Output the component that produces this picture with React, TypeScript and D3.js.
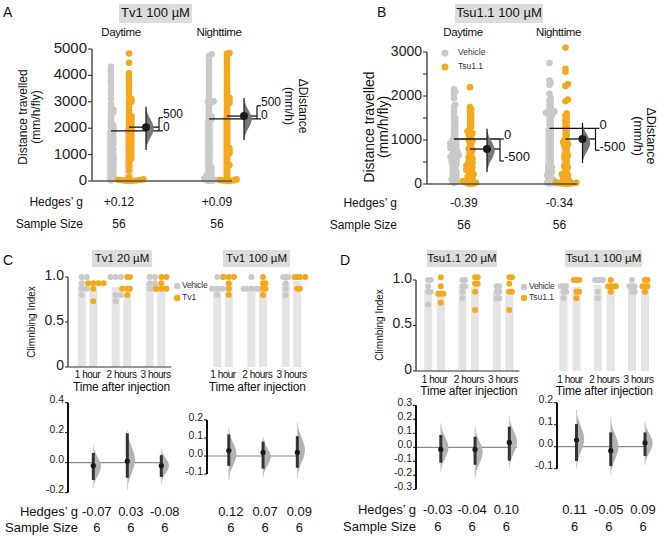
import React from 'react';
import * as d3 from 'd3';

const FONT = "'Liberation Sans', Arial, Helvetica, sans-serif";
const ORANGE = '#F6A81D';
const GREY = '#C9C9C9';
const BAR = '#E4E4E4';

// ---------------- Panels A / B: distance travelled ----------------
const periods = ['Daytime', 'Nighttime'];

const aVehicleDay = [4330, 4200, 4100, 3950, 3800, 3650, 3450, 3300, 3100, 2900, 2750, 2700, 2650, 2600, 2550, 2450, 2350, 2250, 2150, 2100, 2050, 1950, 1900, 1850, 1800, 1700, 1650, 1600, 1500, 1450, 1400, 1350, 1250, 1200, 1150, 1050, 1000, 950, 900, 850, 800, 750, 700, 650, 600, 550, 500, 450, 400, 350, 300, 250, 200, 150, 80, 20];
const aTv1Day = [4830, 4480, 4080, 3930, 3800, 3680, 3550, 3400, 3250, 3100, 3050, 3000, 2950, 2800, 2650, 2500, 2450, 2400, 2350, 2300, 2250, 2200, 2150, 2100, 2050, 2000, 1950, 1900, 1850, 1800, 1700, 1650, 1600, 1550, 1450, 1400, 1300, 1250, 1150, 1100, 1000, 950, 850, 800, 700, 550, 400, 150, 60, 50, 40, 30, 20, 10, 5, 0];
const aVehicleNight = [4800, 4720, 4600, 4450, 4300, 4150, 4000, 3850, 3700, 3550, 3400, 3250, 3100, 3020, 3000, 2980, 2900, 2800, 2700, 2600, 2500, 2450, 2400, 2350, 2300, 2200, 2100, 2000, 1900, 1800, 1700, 1600, 1500, 1400, 1300, 1200, 1100, 1000, 900, 800, 700, 600, 500, 450, 400, 350, 300, 250, 200, 150, 120, 80, 50, 30, 10, 0];
const aTv1Night = [4850, 4820, 4700, 4550, 4400, 4250, 4100, 3950, 3850, 3750, 3650, 3500, 3400, 3300, 3200, 3150, 3100, 3050, 3000, 2950, 2900, 2800, 2700, 2600, 2500, 2400, 2300, 2200, 2100, 2000, 1900, 1800, 1650, 1500, 1400, 1300, 1250, 1200, 1150, 1100, 1050, 1000, 900, 800, 700, 600, 550, 400, 250, 120, 60, 40, 30, 20, 10, 0];
const aVehicleMean = [1900, 2350];
const aTv1Mean = [2040, 2460];
const aDistLo = [-730, -800];
const aDistHi = [910, 790];
const aDeltaTicks = [0, 500];
const aYTicks = [0, 1000, 2000, 3000, 4000, 5000];
const aHedges = ['+0.12', '+0.09'];
const aN = ['56', '56'];

const bVehicleDay = [2150, 2100, 2050, 1950, 1800, 1750, 1650, 1550, 1500, 1450, 1400, 1350, 1300, 1250, 1200, 1150, 1100, 1050, 1000, 980, 950, 920, 900, 880, 850, 820, 800, 780, 750, 720, 700, 680, 650, 640, 620, 600, 580, 550, 520, 500, 480, 450, 420, 400, 350, 300, 280, 250, 200, 180, 150, 120, 100, 80, 50, 20];
const bTsuDay = [2200, 1750, 1700, 1650, 1600, 1550, 1500, 1450, 1400, 1350, 1300, 1250, 1200, 1180, 1150, 1120, 1100, 1050, 1000, 980, 950, 900, 850, 800, 780, 750, 700, 650, 600, 580, 550, 500, 480, 450, 420, 400, 380, 350, 320, 300, 280, 250, 220, 200, 180, 150, 130, 100, 80, 60, 50, 40, 30, 20, 10, 0];
const bVehicleNight = [2750, 2350, 2300, 2250, 2050, 1950, 1900, 1850, 1800, 1750, 1700, 1650, 1640, 1620, 1600, 1580, 1550, 1500, 1450, 1400, 1350, 1300, 1250, 1200, 1150, 1100, 1050, 1000, 950, 900, 850, 800, 750, 700, 650, 600, 550, 500, 450, 400, 380, 350, 300, 280, 250, 200, 180, 150, 120, 100, 80, 60, 40, 30, 20, 10];
const bTsuNight = [3100, 2620, 2550, 2270, 2230, 1920, 1880, 1600, 1550, 1500, 1450, 1400, 1350, 1300, 1250, 1200, 1150, 1100, 1050, 1000, 970, 950, 920, 900, 870, 850, 800, 750, 700, 650, 620, 600, 550, 500, 450, 400, 380, 350, 300, 250, 220, 200, 180, 150, 120, 100, 80, 60, 50, 40, 30, 20, 15, 10, 5, 0];
const bVehicleMean = [1023, 1266];
const bTsuMean = [795, 1023];
const bDistLo = [-750, -790];
const bDistHi = [230, 120];
const bDeltaTicks = [0, -500];
const bYTicks = [0, 500, 1000, 1500, 2000, 2500, 3000];
const bYLabelTicks = [0, 1000, 2000, 3000];
const bHedges = ['-0.39', '-0.34'];
const bN = ['56', '56'];

const violinProfile = [0, 0.1, 0.3, 0.6, 0.88, 1, 0.88, 0.6, 0.3, 0.1, 0];

// ---------------- Panels C / D: climbing index ----------------
const hours = ['1 hour', '2 hours', '3 hours'];

const cTv20Vehicle = [[1, 1, 0.93, 0.87, 0.87, 0.8], [1, 1, 1, 0.8, 0.8, 0.73], [1, 1, 0.93, 0.93, 0.87, 0.87]];
const cTv20Tv1 = [[0.93, 0.93, 0.93, 0.93, 0.87, 0.73], [1, 1, 0.87, 0.87, 0.87, 0.8], [1, 1, 0.93, 0.87, 0.87, 0.87]];
const cTv100Vehicle = [[1, 1, 0.87, 0.87, 0.87, 0.8], [1, 0.87, 0.87, 0.87, 0.87, 0.87], [1, 1, 1, 0.93, 0.87, 0.8]];
const cTv100Tv1 = [[1, 1, 1, 0.93, 0.87, 0.8], [1, 0.93, 0.93, 0.87, 0.87, 0.8], [1, 1, 1, 1, 0.87, 0.87]];

const dTsu20Vehicle = [[1, 1, 0.93, 0.87, 0.87, 0.73], [1, 1, 0.93, 0.93, 0.87, 0.8], [0.93, 0.93, 0.87, 0.87, 0.8, 0.8]];
const dTsu20Tsu = [[1.03, 0.93, 0.85, 0.85, 0.85, 0.75], [1.03, 1.03, 0.96, 0.96, 0.87, 0.67], [1.03, 1.03, 0.96, 0.87, 0.87, 0.67]];
const dTsu100Vehicle = [[0.93, 0.93, 0.93, 0.87, 0.87, 0.8], [1, 1, 1, 1, 0.87, 0.8], [1, 0.93, 0.93, 0.93, 0.87, 0.87]];
const dTsu100Tsu = [[1, 1, 1, 0.87, 0.87, 0.8], [1, 0.93, 0.93, 0.93, 0.93, 0.87], [1, 1, 0.93, 0.93, 0.93, 0.87]];

const cTv20Diff = [-0.02, 0.01, -0.02];
const cTv20CiLo = [-0.115, -0.1, -0.095];
const cTv20CiHi = [0.065, 0.196, 0.05];
const cTv20DistLo = [-0.17, -0.18, -0.137];
const cTv20DistHi = [0.12, 0.218, 0.096];
const cTv20Ticks = [-0.2, 0, 0.2, 0.4];
const cTv20Hedges = ['-0.07', '0.03', '-0.08'];

const cTv100Diff = [0.03, 0.02, 0.02];
const cTv100CiLo = [-0.055, -0.07, -0.065];
const cTv100CiHi = [0.12, 0.08, 0.11];
const cTv100DistLo = [-0.133, -0.118, -0.124];
const cTv100DistHi = [0.154, 0.107, 0.19];
const cTv100Ticks = [-0.1, 0, 0.1, 0.2];
const cTv100Hedges = ['0.12', '0.07', '0.09'];

const dTsu20Diff = [-0.015, -0.015, 0.035];
const dTsu20CiLo = [-0.11, -0.125, -0.095];
const dTsu20CiHi = [0.088, 0.075, 0.147];
const dTsu20DistLo = [-0.174, -0.22, -0.15];
const dTsu20DistHi = [0.171, 0.147, 0.224];
const dTsu20Ticks = [-0.3, -0.2, -0.1, 0, 0.1, 0.2, 0.3];
const dTsu20Hedges = ['-0.03', '-0.04', '0.10'];

const dTsu100Diff = [0.03, -0.018, 0.018];
const dTsu100CiLo = [-0.065, -0.088, -0.042];
const dTsu100CiHi = [0.103, 0.065, 0.065];
const dTsu100DistLo = [-0.098, -0.129, -0.083];
const dTsu100DistHi = [0.167, 0.129, 0.114];
const dTsu100Ticks = [-0.1, 0, 0.1, 0.2];
const dTsu100Hedges = ['0.11', '-0.05', '0.09'];

const sampleN = ['6', '6', '6'];
const climbTicks = [0, 0.5, 1];

// ---------------- helpers ----------------
function swarm(vals: number[], y: (v: number) => number, cx: number, minD: number, step: number) {
  const sorted = [...vals].sort((a, b) => a - b);
  const placed: { x: number; y: number }[] = [];
  for (const v of sorted) {
    const yy = y(v);
    let xx = cx;
    for (let i = 0; i < 400; i++) {
      const off = i === 0 ? 0 : (i % 2 === 1 ? 1 : -1) * Math.ceil(i / 2) * step;
      const cand = cx + off;
      if (placed.every((p) => (p.x - cand) ** 2 + (p.y - yy) ** 2 >= minD * minD)) {
        xx = cand;
        break;
      }
    }
    placed.push({ x: xx, y: yy });
  }
  return placed;
}

function violinPath(x: number, yTop: number, yBot: number, w: number) {
  const n = violinProfile.length;
  const pts = violinProfile.map((p, i) => ({ y: yTop + ((yBot - yTop) * i) / (n - 1), w: p * w }));
  const area = d3
    .area<{ y: number; w: number }>()
    .y((d) => d.y)
    .x0(() => x)
    .x1((d) => x + d.w)
    .curve(d3.curveBasis);
  return area(pts) || '';
}

const fmt1 = (d: number) => d3.format('.1f')(d).replace('\u2212', '-');

type DistCfg = {
  y: d3.ScaleLinear<number, number>;
  x: d3.ScalePoint<string>;
  off: number;
  vehicle: number[][];
  treat: number[][];
  vMean: number[];
  tMean: number[];
  lo: number[];
  hi: number[];
  deltaTicks: number[];
  axisX: number;
  baseEnd: number;
  ticks: number[];
  labelTicks: number[];
  tickFont: number;
  deltaFont: number;
};

function DistancePanel({ c }: { c: DistCfg }) {
  const { y, x, off } = c;
  return (
    <g>
      {periods.map((p, i) => {
        const cx = x(p) as number;
        const gx = cx - off;
        const tx = cx + off;
        return (
          <g key={p}>
            <rect x={gx - 4.5} width={9} y={y(c.vMean[i])} height={y(0) - y(c.vMean[i])} fill={BAR} />
            <rect x={tx - 4.5} width={9} y={y(c.tMean[i])} height={y(0) - y(c.tMean[i])} fill={BAR} />
          </g>
        );
      })}
      {periods.map((p, i) => {
        const cx = x(p) as number;
        const gd = swarm(c.vehicle[i], y, cx - c.off, 2.5, 1.2);
        const td = swarm(c.treat[i], y, cx + c.off, 2.5, 1.2);
        return (
          <g key={p + 'd'}>
            {gd.map((d, k) => (
              <circle key={'g' + k} cx={d.x} cy={d.y} r={3.3} fill={GREY} />
            ))}
            {td.map((d, k) => (
              <circle key={'t' + k} cx={d.x} cy={d.y} r={3.3} fill={ORANGE} />
            ))}
          </g>
        );
      })}
      {/* axis */}
      <line x1={c.axisX} x2={c.axisX} y1={y(c.ticks[c.ticks.length - 1])} y2={y(0)} stroke="#222" strokeWidth={1.2} />
      <line x1={c.axisX} x2={c.baseEnd} y1={y(0)} y2={y(0)} stroke="#555" strokeWidth={1.5} />
      {c.ticks.map((t) => (
        <line key={t} x1={c.axisX - 4} x2={c.axisX} y1={y(t)} y2={y(t)} stroke="#222" strokeWidth={1} />
      ))}
      {c.labelTicks.map((t) => (
        <text key={t} x={c.axisX - 5} y={y(t)} textAnchor="end" dominantBaseline="middle" fontSize={c.tickFont} fill="#222">
          {t}
        </text>
      ))}
      {/* estimation */}
      {periods.map((p, i) => {
        const cx = x(p) as number;
        const gx = cx - off;
        const tx = cx + off;
        const ex = tx + 17;
        const bx = tx + 30;
        const vm = c.vMean[i];
        const tm = c.tMean[i];
        return (
          <g key={p + 'e'}>
            <line x1={gx} x2={bx} y1={y(vm)} y2={y(vm)} stroke="#111" strokeWidth={1.3} />
            <line x1={tx} x2={bx} y1={y(tm)} y2={y(tm)} stroke="#111" strokeWidth={1.3} />
            <line x1={bx} x2={bx} y1={y(vm + c.deltaTicks[0])} y2={y(vm + c.deltaTicks[1])} stroke="#111" strokeWidth={1.2} />
            {c.deltaTicks.map((d) => (
              <g key={d}>
                <line x1={bx} x2={bx + 4} y1={y(vm + d)} y2={y(vm + d)} stroke="#111" strokeWidth={1.2} />
                <text x={bx + 4} y={y(vm + d) - 3} dominantBaseline="middle" fontSize={c.deltaFont} fill="#111">
                  {d}
                </text>
              </g>
            ))}
            <path d={violinPath(ex, y(vm + c.hi[i]), y(vm + c.lo[i]), 8)} fill="#777" />
            <line x1={ex} x2={ex} y1={y(vm + c.hi[i])} y2={y(vm + c.lo[i])} stroke="#111" strokeWidth={1.2} />
            <circle cx={ex} cy={y(tm)} r={4} fill="#1a1a1a" />
          </g>
        );
      })}
    </g>
  );
}

type ClimbCfg = {
  x: d3.ScalePoint<string>;
  off: number;
  y: d3.ScaleLinear<number, number>;
  vehicle: number[][];
  treat: number[][];
  axis: boolean;
  axisX: number;
  hourY: number;
  timeY: number;
  ey: d3.ScaleLinear<number, number>;
  eAxisX: number;
  eTicks: number[];
  diff: number[];
  ciLo: number[];
  ciHi: number[];
  distLo: number[];
  distHi: number[];
  zeroEnd: number;
  hedges: string[];
  hedgesDx: number;
  hedgesY: number;
  nY: number;
  title: string;
  titleX: number;
  titleW: number;
};

function ClimbPanel({ c }: { c: ClimbCfg }) {
  const { x, y, ey, off } = c;
  const centers = hours.map((h) => x(h) as number);
  const mid = (centers[0] + centers[2]) / 2;
  return (
    <g>
      <rect x={c.titleX - c.titleW / 2} y={250} width={c.titleW} height={17} fill="#DCDCDC" />
      <text x={c.titleX} y={259} textAnchor="middle" dominantBaseline="middle" fontSize={11.5} fill="#111">
        {c.title}
      </text>
      {hours.map((h, i) => {
        const cx = centers[i];
        const vm = d3.mean(c.vehicle[i]) as number;
        const tm = d3.mean(c.treat[i]) as number;
        const vd = swarm(c.vehicle[i], y, cx - off, 2.6, 2.6);
        const td = swarm(c.treat[i], y, cx + off, 2.6, 2.6);
        return (
          <g key={h}>
            <rect x={cx - off - 4} width={8} y={y(vm)} height={y(0) - y(vm)} fill={BAR} />
            <rect x={cx + off - 4} width={8} y={y(tm)} height={y(0) - y(tm)} fill={BAR} />
            {vd.map((d, k) => (
              <circle key={'v' + k} cx={d.x} cy={d.y} r={3} fill={GREY} />
            ))}
            {td.map((d, k) => (
              <circle key={'t' + k} cx={d.x} cy={d.y} r={3} fill={ORANGE} />
            ))}
            <text x={cx} y={c.hourY} textAnchor="middle" dominantBaseline="middle" fontSize={10} letterSpacing={-0.5} fill="#111">
              {h}
            </text>
          </g>
        );
      })}
      {c.axis && (
        <g>
          <line x1={c.axisX} x2={c.axisX} y1={y(1)} y2={y(0)} stroke="#222" strokeWidth={1.2} />
          <line x1={c.axisX} x2={centers[2] + off + 10} y1={y(0)} y2={y(0)} stroke="#333" strokeWidth={1.2} />
          {climbTicks.map((t) => (
            <g key={t}>
              <line x1={c.axisX - 3} x2={c.axisX} y1={y(t)} y2={y(t)} stroke="#222" />
              <text x={c.axisX - 4} y={y(t) - 1} textAnchor="end" dominantBaseline="middle" fontSize={14} fill="#222">
                {t === 0 ? '0' : fmt1(t)}
              </text>
            </g>
          ))}
        </g>
      )}
      <text x={mid} y={c.timeY} textAnchor="middle" dominantBaseline="middle" fontSize={12} letterSpacing={-0.2} fill="#111">
        Time after injection
      </text>
      {/* estimation plot */}
      <line x1={c.eAxisX} x2={c.zeroEnd} y1={ey(0)} y2={ey(0)} stroke="#8a8a8a" strokeWidth={1.2} />
      <line x1={c.eAxisX} x2={c.eAxisX} y1={ey(c.eTicks[0])} y2={ey(c.eTicks[c.eTicks.length - 1])} stroke="#111" strokeWidth={2} />
      {c.eTicks.map((t) => (
        <g key={t}>
          <line x1={c.eAxisX - 3} x2={c.eAxisX} y1={ey(t)} y2={ey(t)} stroke="#111" />
          <text x={c.eAxisX - 4} y={ey(t) - 2} textAnchor="end" dominantBaseline="middle" fontSize={10.5} fill="#222">
            {fmt1(t)}
          </text>
        </g>
      ))}
      {hours.map((h, i) => {
        const ex = centers[i] + off;
        return (
          <g key={h + 'e'}>
            <path d={violinPath(ex, ey(c.distHi[i]), ey(c.distLo[i]), 8)} fill="#B3B3B3" />
            <line x1={ex} x2={ex} y1={ey(c.distHi[i])} y2={ey(c.distLo[i])} stroke="#D0D0D0" strokeWidth={1} />
            <line x1={ex} x2={ex} y1={ey(c.ciHi[i])} y2={ey(c.ciLo[i])} stroke="#333" strokeWidth={3} />
            <circle cx={ex} cy={ey(c.diff[i])} r={2.6} fill="#1a1a1a" />
            <text x={ex + c.hedgesDx} y={c.hedgesY} textAnchor="middle" dominantBaseline="middle" fontSize={13} fill="#111">
              {c.hedges[i]}
            </text>
            <text x={ex + c.hedgesDx} y={c.nY} textAnchor="middle" dominantBaseline="middle" fontSize={13} fill="#111">
              {sampleN[i]}
            </text>
          </g>
        );
      })}
    </g>
  );
}

export default function App() {
  const aY = d3.scaleLinear().domain([0, 5000]).range([181, 49]);
  const aX = d3.scalePoint<string>().domain(periods).range([120, 218]);
  const bY = d3.scaleLinear().domain([0, 3000]).range([184, 52]);
  const bX = d3.scalePoint<string>().domain(periods).range([462, 557.5]);

  const aCfg: DistCfg = {
    y: aY, x: aX, off: 9,
    vehicle: [aVehicleDay, aVehicleNight], treat: [aTv1Day, aTv1Night],
    vMean: aVehicleMean, tMean: aTv1Mean, lo: aDistLo, hi: aDistHi,
    deltaTicks: aDeltaTicks, axisX: 92, baseEnd: 232, ticks: aYTicks, labelTicks: aYTicks, tickFont: 15, deltaFont: 12,
  };
  const bCfg: DistCfg = {
    y: bY, x: bX, off: 8,
    vehicle: [bVehicleDay, bVehicleNight], treat: [bTsuDay, bTsuNight],
    vMean: bVehicleMean, tMean: bTsuMean, lo: bDistLo, hi: bDistHi,
    deltaTicks: bDeltaTicks, axisX: 427, baseEnd: 577, ticks: bYTicks, labelTicks: bYLabelTicks, tickFont: 14, deltaFont: 13,
  };

  const cTopY = d3.scaleLinear().domain([0, 1]).range([367, 277]);
  const dTopY = d3.scaleLinear().domain([0, 1]).range([371, 280]);

  const climbs: ClimbCfg[] = [
    {
      x: d3.scalePoint<string>().domain(hours).range([87.5, 155.5]), off: 5.8, y: cTopY,
      vehicle: cTv20Vehicle, treat: cTv20Tv1, axis: true, axisX: 68, hourY: 375, timeY: 388,
      ey: d3.scaleLinear().domain([-0.2, 0.4]).range([492.7, 402.7]), eAxisX: 68, eTicks: cTv20Ticks,
      diff: cTv20Diff, ciLo: cTv20CiLo, ciHi: cTv20CiHi, distLo: cTv20DistLo, distHi: cTv20DistHi, zeroEnd: 167,
      hedges: cTv20Hedges, hedgesDx: 3.5, hedgesY: 513, nY: 529, title: 'Tv1 20 µM', titleX: 122, titleW: 60,
    },
    {
      x: d3.scalePoint<string>().domain(hours).range([223, 291.5]), off: 5.8, y: cTopY,
      vehicle: cTv100Vehicle, treat: cTv100Tv1, axis: false, axisX: 0, hourY: 375, timeY: 388,
      ey: d3.scaleLinear().domain([-0.1, 0.2]).range([474, 420]), eAxisX: 207, eTicks: cTv100Ticks,
      diff: cTv100Diff, ciLo: cTv100CiLo, ciHi: cTv100CiHi, distLo: cTv100DistLo, distHi: cTv100DistHi, zeroEnd: 297,
      hedges: cTv100Hedges, hedgesDx: 2, hedgesY: 513, nY: 529, title: 'Tv1 100 µM', titleX: 256.5, titleW: 67,
    },
    {
      x: d3.scalePoint<string>().domain(hours).range([434.5, 503]), off: 6.3, y: dTopY,
      vehicle: dTsu20Vehicle, treat: dTsu20Tsu, axis: true, axisX: 416, hourY: 380, timeY: 392,
      ey: d3.scaleLinear().domain([-0.3, 0.3]).range([489.3, 405.3]), eAxisX: 416, eTicks: dTsu20Ticks,
      diff: dTsu20Diff, ciLo: dTsu20CiLo, ciHi: dTsu20CiHi, distLo: dTsu20DistLo, distHi: dTsu20DistHi, zeroEnd: 517,
      hedges: dTsu20Hedges, hedgesDx: -3, hedgesY: 511, nY: 528, title: 'Tsu1.1 20 µM', titleX: 462, titleW: 70,
    },
    {
      x: d3.scalePoint<string>().domain(hours).range([570, 638.5]), off: 6.5, y: dTopY,
      vehicle: dTsu100Vehicle, treat: dTsu100Tsu, axis: false, axisX: 0, hourY: 380, timeY: 392,
      ey: d3.scaleLinear().domain([-0.1, 0.2]).range([468.7, 402.7]), eAxisX: 557, eTicks: dTsu100Ticks,
      diff: dTsu100Diff, ciLo: dTsu100CiLo, ciHi: dTsu100CiHi, distLo: dTsu100DistLo, distHi: dTsu100DistHi, zeroEnd: 652,
      hedges: dTsu100Hedges, hedgesDx: -2, hedgesY: 511, nY: 528, title: 'Tsu1.1 100 µM', titleX: 603.5, titleW: 77,
    },
  ];

  return (
    <svg width={658} height={536} style={{ position: 'absolute', left: 0, top: 0, background: '#fff' }} fontFamily={FONT}>
      <rect width={658} height={536} fill="#fff" />
      {/* panel letters */}
      <text x={3} y={13} fontSize={14} dominantBaseline="middle" fill="#111">A</text>
      <text x={377} y={13} fontSize={14} dominantBaseline="middle" fill="#111">B</text>
      <text x={3} y={261} fontSize={14} dominantBaseline="middle" fill="#111">C</text>
      <text x={340} y={261} fontSize={14} dominantBaseline="middle" fill="#111">D</text>

      {/* Panel A */}
      <rect x={119} y={4} width={73} height={19} fill="#DCDCDC" />
      <text x={155.5} y={14} textAnchor="middle" dominantBaseline="middle" fontSize={13} fill="#111">Tv1 100 µM</text>
      {periods.map((p) => (
        <text key={p} x={(aX(p) as number) + 1} y={33} textAnchor="middle" dominantBaseline="middle" fontSize={11.5} letterSpacing={-0.4} fill="#111">
          {p}
        </text>
      ))}
      <g transform="translate(24,117) rotate(-90)">
        <text textAnchor="middle" dominantBaseline="middle" fontSize={12} fill="#111">Distance travelled</text>
        <text y={13} textAnchor="middle" dominantBaseline="middle" fontSize={12} fill="#111">(mm/h/fly)</text>
      </g>
      <g transform="translate(302,106) rotate(90)">
        <text textAnchor="middle" dominantBaseline="middle" fontSize={12} fill="#111">ΔDistance</text>
        <text y={14} textAnchor="middle" dominantBaseline="middle" fontSize={12} fill="#111">(mm/h)</text>
      </g>
      <DistancePanel c={aCfg} />
      <text x={83} y={203} textAnchor="end" dominantBaseline="middle" fontSize={12} fill="#111">Hedges’ g</text>
      <text x={83} y={225} textAnchor="end" dominantBaseline="middle" fontSize={12} fill="#111">Sample Size</text>
      {periods.map((p, i) => (
        <g key={p}>
          <text x={(aX(p) as number) - 1} y={203} textAnchor="middle" dominantBaseline="middle" fontSize={12} fill="#111">{aHedges[i]}</text>
          <text x={(aX(p) as number) - 1} y={225} textAnchor="middle" dominantBaseline="middle" fontSize={12} fill="#111">{aN[i]}</text>
        </g>
      ))}

      {/* Panel B */}
      <rect x={455} y={4} width={88} height={19} fill="#DCDCDC" />
      <text x={499} y={14} textAnchor="middle" dominantBaseline="middle" fontSize={13} fill="#111">Tsu1.1 100 µM</text>
      {periods.map((p) => (
        <text key={p} x={(bX(p) as number) + 1} y={33} textAnchor="middle" dominantBaseline="middle" fontSize={11.5} letterSpacing={-0.4} fill="#111">
          {p}
        </text>
      ))}
      <g transform="translate(370,127) rotate(-90)">
        <text textAnchor="middle" dominantBaseline="middle" fontSize={14} fill="#111">Distance travelled</text>
        <text y={14} textAnchor="middle" dominantBaseline="middle" fontSize={14} fill="#111">(mm/h/fly)</text>
      </g>
      <g transform="translate(650,136) rotate(90)">
        <text textAnchor="middle" dominantBaseline="middle" fontSize={12.5} fill="#111">ΔDistance</text>
        <text y={13} textAnchor="middle" dominantBaseline="middle" fontSize={12.5} fill="#111">(mm/h)</text>
      </g>
      <circle cx={445} cy={53} r={3.5} fill={GREY} />
      <text x={458} y={53} dominantBaseline="middle" fontSize={8.5} fill="#333">Vehicle</text>
      <circle cx={445} cy={67} r={3.5} fill={ORANGE} />
      <text x={458} y={67} dominantBaseline="middle" fontSize={8.5} fill="#333">Tsu1.1</text>
      <DistancePanel c={bCfg} />
      <text x={397} y={204} textAnchor="end" dominantBaseline="middle" fontSize={12} fill="#111">Hedges’ g</text>
      <text x={397} y={226} textAnchor="end" dominantBaseline="middle" fontSize={12} fill="#111">Sample Size</text>
      {periods.map((p, i) => (
        <g key={p}>
          <text x={(bX(p) as number) + 2} y={204} textAnchor="middle" dominantBaseline="middle" fontSize={12} fill="#111">{bHedges[i]}</text>
          <text x={(bX(p) as number) + 2} y={226} textAnchor="middle" dominantBaseline="middle" fontSize={12} fill="#111">{bN[i]}</text>
        </g>
      ))}

      {/* Panels C / D */}
      {climbs.map((c, i) => (
        <ClimbPanel key={i} c={c} />
      ))}
      <g transform="translate(32,322) rotate(-90)">
        <text textAnchor="middle" dominantBaseline="middle" fontSize={10} fill="#111">Climnbing Index</text>
      </g>
      <g transform="translate(380,325) rotate(-90)">
        <text textAnchor="middle" dominantBaseline="middle" fontSize={10} fill="#111">Climnbing Index</text>
      </g>
      <circle cx={177} cy={286} r={3.2} fill={GREY} />
      <text x={182} y={286} dominantBaseline="middle" fontSize={8.5} letterSpacing={-0.3} fill="#333">Vehicle</text>
      <circle cx={177} cy={298} r={3.2} fill={ORANGE} />
      <text x={182} y={298} dominantBaseline="middle" fontSize={8.5} fill="#333">Tv1</text>
      <circle cx={524} cy={287} r={3.2} fill={GREY} />
      <text x={529} y={287} dominantBaseline="middle" fontSize={8.5} letterSpacing={-0.3} fill="#333">Vehicle</text>
      <circle cx={524} cy={298} r={3.2} fill={ORANGE} />
      <text x={529} y={298} dominantBaseline="middle" fontSize={8.5} fill="#333">Tsu1.1</text>
      <text x={78} y={513} textAnchor="end" dominantBaseline="middle" fontSize={13} fill="#111">Hedges’ g</text>
      <text x={78} y={529} textAnchor="end" dominantBaseline="middle" fontSize={13} fill="#111">Sample Size</text>
      <text x={416} y={511} textAnchor="end" dominantBaseline="middle" fontSize={13} fill="#111">Hedges’ g</text>
      <text x={416} y={528} textAnchor="end" dominantBaseline="middle" fontSize={13} fill="#111">Sample Size</text>
    </svg>
  );
}
